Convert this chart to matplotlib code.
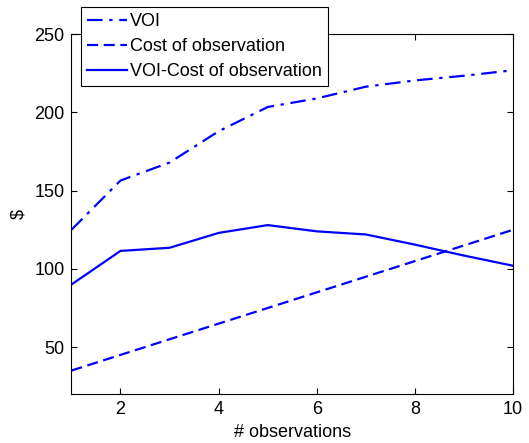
import matplotlib
matplotlib.use("Agg")
import matplotlib.pyplot as plt

plt.rcParams['font.family'] = ['Liberation Sans', 'DejaVu Sans']

n_obs = [1, 2, 3, 4, 5, 6, 7, 8, 9, 10]
voi = [125, 156.5, 168, 188, 203.5, 209, 216.5, 220.5, 223.5, 227]
cost = [35, 45, 55, 65, 75, 85, 95, 105, 115, 125]
voi_minus_cost = [90, 111.5, 113.5, 123, 128, 124, 122, 115.5, 108.5, 102]

fig = plt.figure(figsize=(5.29, 4.43), dpi=100)
ax = fig.add_axes([0.135, 0.1106, 0.835, 0.812])

blue = (0, 0, 1)
ax.plot(n_obs, voi, color=blue, linestyle=(0, (7, 3, 1.5, 3)), linewidth=1.6, label='VOI')
ax.plot(n_obs, cost, color=blue, linestyle=(0, (5, 2.5)), linewidth=1.6, label='Cost of observation')
ax.plot(n_obs, voi_minus_cost, color=blue, linestyle='-', linewidth=1.6, label='VOI-Cost of observation')

ax.set_xlim(1, 10)
ax.set_ylim(20, 250)
ax.set_xticks([2, 4, 6, 8, 10])
ax.set_yticks([50, 100, 150, 200, 250])
ax.tick_params(direction='in', top=True, right=True, labelsize=13, length=4, pad=5)
for s in ax.spines.values():
    s.set_linewidth(0.8)

ax.set_xlabel('# observations', fontsize=13, labelpad=4)
ax.set_ylabel('$', fontsize=13)
ax.yaxis.set_label_coords(-0.10, 0.5)

leg = ax.legend(loc='upper left', bbox_to_anchor=(81 / 529, 1 - 7 / 443),
                bbox_transform=fig.transFigure, fontsize=13, fancybox=False,
                framealpha=1, edgecolor='black', borderpad=0.35, labelspacing=0.43,
                handlelength=2.17, handletextpad=0.17, borderaxespad=0)
leg.get_frame().set_linewidth(0.8)

fig.savefig('out.png', dpi=100)
